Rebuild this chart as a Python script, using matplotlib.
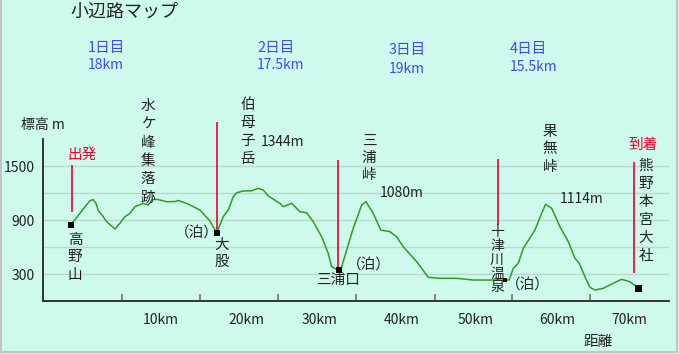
import matplotlib
matplotlib.use('Agg')
import matplotlib.pyplot as plt
from matplotlib.lines import Line2D

plt.rcParams['font.family'] = ['Noto Sans CJK JP', 'DejaVu Sans']

# elevation profile, km from Koyasan / metres
dist_km = [0.0, 0.99, 1.61, 2.22, 2.60, 2.97, 3.25, 3.87, 4.29, 5.32, 5.93, 6.55,
           7.17, 7.79, 8.81, 9.43, 9.89, 10.51, 11.71, 12.73, 13.14, 14.34, 15.82,
           17.06, 17.68, 17.96, 18.29, 18.70, 19.32, 19.94, 20.36, 21.17, 22.21,
           23.03, 23.65, 24.26, 25.71, 26.12, 27.16, 28.18, 29.01, 29.83, 30.86,
           31.68, 32.10, 32.72, 33.04, 33.34, 33.96, 34.77, 35.81, 36.34, 37.24,
           38.16, 39.31, 40.13, 40.95, 42.61, 44.04, 45.49, 47.55, 49.60, 51.67,
           53.31, 54.05, 54.55, 55.17, 55.79, 57.23, 58.06, 58.55, 59.30, 60.32,
           61.35, 62.18, 62.71, 63.41, 64.03, 64.65, 65.67, 66.91, 67.95, 68.97, 69.80]
elev_m = [863, 974, 1048, 1114, 1128, 1085, 1005, 937, 881, 800, 863, 937,
          974, 1048, 1085, 1067, 1124, 1130, 1103, 1105, 1117, 1078, 1011,
          889, 789, 770, 844, 937, 1011, 1159, 1203, 1222, 1225,
          1252, 1233, 1167, 1085, 1048, 1085, 992, 981, 881, 714,
          530, 381, 352, 344, 381, 567, 808, 1067, 1103, 974,
          789, 770, 714, 603, 437, 263, 252, 252, 233, 233,
          233, 233, 363, 419, 585, 789, 974, 1074, 1030, 825,
          659, 474, 419, 270, 152, 122, 141, 197, 241, 214, 159]

# overnight stops and ends
stop_km = [-0.12, 17.96, 33.04, 53.52, 70.05]
stop_m = [844, 755, 344, 233, 141]
stop_size = [19, 19, 19, 9, 26]

# red marker poles: km, bottom m, top m
pole_km = [0.0, 17.96, 32.92, 52.69, 69.51]
pole_lo = [992, 789, 344, 844, 308]
pole_hi = [1511, 1992, 1567, 1574, 1548]

tick_km = [6.18, 15.8, 25.5, 35.1, 44.9, 54.4, 64.0]
km_labels = ['10km', '20km', '30km', '40km', '50km', '60km', '70km']
km_label_px = [161, 246, 320, 402, 476, 557, 629]
grid_m = [300, 600, 900, 1200, 1500]
ytick_m = [300, 900, 1500]

days = ['1日目', '2日目', '3日目', '4日目']
day_dist = ['18km', '17.5km', '19km', '15.5km']
day_px = [(88, 48, 65), (257, 48, 65), (389, 50, 69), (510, 49, 67)]

W, H = 679, 354
BG = '#cdfaec'
GREEN = '#2f9e1a'
RED = '#ee0033'
BLUE = '#4848f0'
INK = '#222222'


def fx(x):
    return x / W


def fy(y):
    return 1 - y / H


def ptext(x, y, s, **kw):
    kw.setdefault('fontsize', 9.5)
    kw.setdefault('color', INK)
    kw.setdefault('ha', 'center')
    kw.setdefault('va', 'center')
    fig.text(fx(x), fy(y), s, **kw)


def vtext(x, y0, s, step=18, **kw):
    # stack characters vertically
    kw.setdefault('fontsize', 10.5)
    for i, ch in enumerate(s):
        ptext(x, y0 + i * step, ch, **kw)


fig = plt.figure(figsize=(W / 100, H / 100), dpi=100, facecolor=BG)
ax = fig.add_axes([fx(43), fy(301), (669 - 43) / W, (301 - 139) / H])
ax.set_facecolor(BG)
ax.set_xlim(-3.58, 73.8)
ax.set_ylim(0, 1800)

for g in grid_m:
    ax.axhline(g, color='#b9d9cc', lw=1, zorder=0)

ax.plot(dist_km, elev_m, color=GREEN, lw=1.1, zorder=3)
ax.vlines(pole_km, pole_lo, pole_hi, colors=RED, lw=1.2, zorder=2, clip_on=False)
ax.scatter(stop_km, stop_m, s=stop_size, marker='s', color='black', zorder=4,
           clip_on=False, linewidths=0)

for side in ['top', 'right']:
    ax.spines[side].set_visible(False)
for side in ['left', 'bottom']:
    ax.spines[side].set_color('#333333')
    ax.spines[side].set_linewidth(1.4)

ax.set_xticks(tick_km)
ax.set_xticklabels([])
ax.tick_params(axis='x', direction='in', length=5, width=1.5, color='#8c8c70')
ax.set_yticks(ytick_m)
ax.set_yticklabels([str(v) for v in ytick_m], fontsize=10, color=INK)
ax.tick_params(axis='y', length=0, pad=6)

for lab, px in zip(km_labels, km_label_px):
    ptext(px, 320, lab, fontsize=10)

# titles and axis names
ptext(70, 12, '小辺路マップ', fontsize=13, ha='left')
ptext(43, 125, '標高 m', fontsize=10)
ptext(598, 342, '距離', fontsize=10.5)

for d, dd, (x, y1, y2) in zip(days, day_dist, day_px):
    ptext(x, y1, d, color=BLUE, ha='left', fontsize=10.5)
    ptext(x, y2, dd, color=BLUE, ha='left', fontsize=10)

# place names
ptext(82, 155, '出発', color=RED, fontsize=10.5)
vtext(75, 240, '高野山', step=17.5)
vtext(148, 106, '水ケ峰集落跡', step=18.3)
ptext(197, 233, '（泊）', fontsize=10.5)
vtext(222, 245, '大股', step=17)
vtext(248, 105, '伯母子岳', step=18)
ptext(283, 142, '1344m', fontsize=10)
ptext(338, 280, '三浦口', fontsize=10.5)
vtext(369, 141, '三浦峠', step=17)
ptext(402, 193, '1080m', fontsize=10)
ptext(369, 265, '（泊）', fontsize=10.5)
vtext(497, 232, '十津川温泉', step=13.8, fontsize=10)
ptext(528, 285, '（泊）', fontsize=10.5)
vtext(550, 132, '果無峠', step=17.5)
ptext(582, 199, '1114m', fontsize=10)
ptext(643, 145, '到着', color=RED, fontsize=10.5)
vtext(646, 166, '熊野本宮大社', step=18)

# outer grey frame
for xs, ys in [([1, 1], [0, 352]), ([677, 677], [0, 352]), ([1, 677], [352, 352])]:
    fig.add_artist(Line2D([fx(v) for v in xs], [fy(v) for v in ys],
                          color='#c4c4c4', lw=1.5))

fig.savefig('out.png', dpi=100, facecolor=BG)
